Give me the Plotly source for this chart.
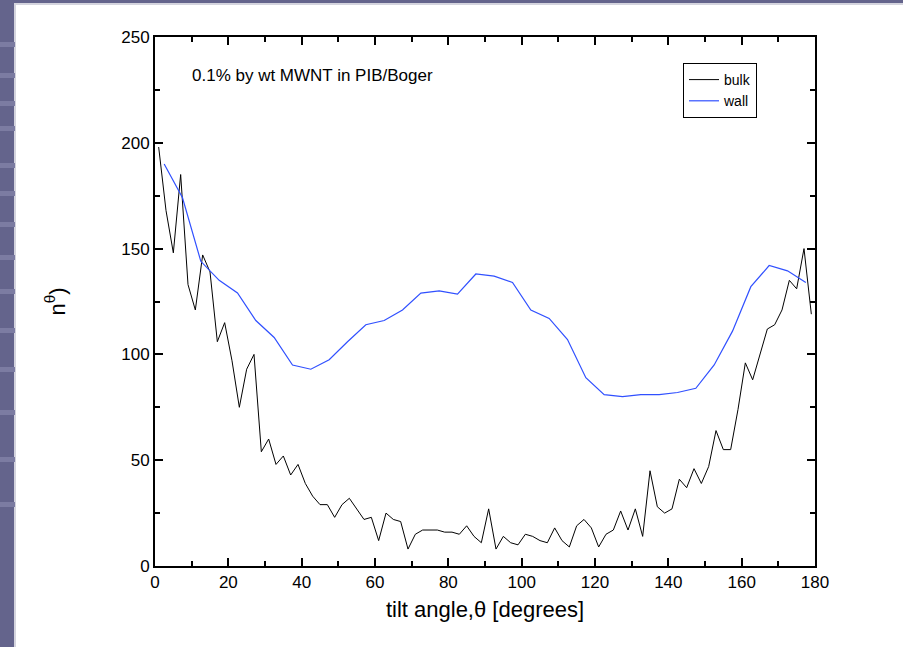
import plotly.graph_objects as go

# ---------------- data ----------------
bulk_angle = list(range(1, 180, 2))
bulk_n = [198, 168, 148, 185, 133, 121, 147, 139, 106, 115,
          97, 75, 93, 100, 54, 60, 48, 52, 43, 48,
          39, 33, 29, 29, 23, 29, 32, 27, 22, 23,
          12, 25, 22, 21, 8, 15, 17, 17, 17, 16,
          16, 15, 19, 14, 11, 27, 8, 14, 11, 10,
          15, 14, 12, 11, 18, 12, 9, 19, 22, 18,
          9, 15, 17, 26, 17, 27, 14, 45, 28, 25,
          27, 41, 37, 46, 39, 47, 64, 55, 55, 74,
          96, 88, 100, 112, 114, 121, 135, 131, 150, 119]

wall_angle = [2.5 + 5 * i for i in range(36)]
wall_n = [190, 174, 144, 135, 129, 116, 108, 95, 93, 97.5,
          106, 114, 116, 121, 129, 130, 128.5, 138, 137, 134,
          121, 117, 107, 89, 81, 80, 81, 81, 82, 84,
          95, 111, 132, 142, 139.5, 134]

x_ticks = [0, 20, 40, 60, 80, 100, 120, 140, 160, 180]
y_ticks = [0, 50, 100, 150, 200, 250]

# ---------------- layout geometry ----------------
W, H = 903, 647
L, R, T, B = 155, 88, 37, 81
pw, ph = W - L - R, H - T - B

def px(x):
    return (x - L) / pw

def py(y):
    return (H - B - y) / ph

FONT = "Liberation Sans, Arial, sans-serif"

fig = go.Figure()
fig.add_trace(go.Scatter(x=bulk_angle, y=bulk_n, mode="lines", name="bulk",
                         line=dict(color="#000000", width=1)))
fig.add_trace(go.Scatter(x=wall_angle, y=wall_n, mode="lines", name="wall",
                         line=dict(color="#3050ff", width=1.2)))

shapes = []
# white slide panel
shapes.append(dict(type="rect", xref="paper", yref="paper", layer="below",
                   x0=px(15), x1=px(W + 5), y0=py(4), y1=py(H + 5),
                   fillcolor="#ffffff", line=dict(color="#d4d4de", width=2)))
# lighter bands on the left strip
bands = [44, 75, 103, 128, 165, 193, 224, 257, 291, 330, 369, 412, 459, 504]
for b in bands:
    shapes.append(dict(type="rect", xref="paper", yref="paper", layer="below",
                       x0=px(0), x1=px(15), y0=py(b - 2), y1=py(b + 3),
                       fillcolor="#7c7ca2", line=dict(width=0)))

axis_common = dict(showline=True, linecolor="black", linewidth=2, mirror="ticks",
                   ticks="inside", ticklen=8, tickwidth=2, tickcolor="black",
                   showgrid=False, zeroline=False,
                   tickfont=dict(family=FONT, size=17, color="black"))

fig.update_layout(
    width=W, height=H,
    margin=dict(l=L, r=R, t=T, b=B),
    paper_bgcolor="#64648c",
    plot_bgcolor="#ffffff",
    shapes=shapes,
    font=dict(family=FONT, color="black"),
    xaxis=dict(range=[0, 180], tickvals=x_ticks,
               minor=dict(dtick=10, ticks="inside", ticklen=5, tickwidth=2, tickcolor="black"),
               title=dict(text="tilt angle,θ [degrees]", font=dict(family=FONT, size=22), standoff=10),
               **axis_common),
    yaxis=dict(range=[0, 250], tickvals=y_ticks,
               minor=dict(dtick=25, ticks="inside", ticklen=5, tickwidth=2, tickcolor="black"),
               title=dict(text="n<sup>θ</sup>)", font=dict(family=FONT, size=22), standoff=50),
               **axis_common),
    legend=dict(x=px(683), y=py(63), xanchor="left", yanchor="top",
                bgcolor="rgba(255,255,255,1)", bordercolor="black", borderwidth=1,
                font=dict(family=FONT, size=14), tracegroupgap=0, itemwidth=30),
    annotations=[dict(text="0.1% by wt MWNT in PIB/Boger", xref="paper", yref="paper",
                      x=px(190), y=py(75), xanchor="left", yanchor="middle",
                      showarrow=False, font=dict(family=FONT, size=17))],
    showlegend=True,
)

fig.write_html("out.html")
